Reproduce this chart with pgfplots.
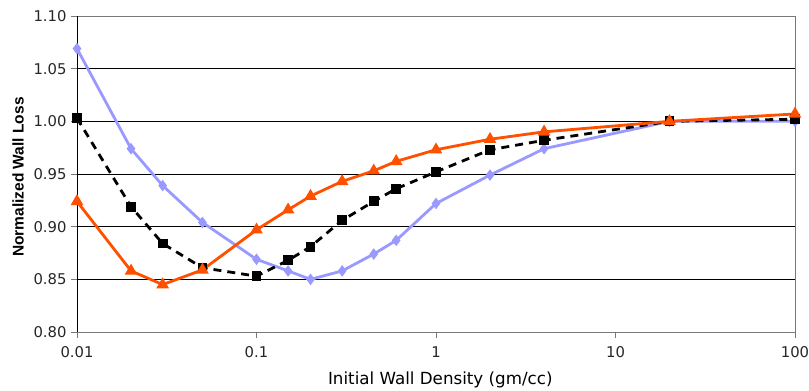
\documentclass[border=0pt]{standalone}
\usepackage{pgfplots}
\pgfplotsset{compat=1.18}
\usepackage{fontspec}
\setmainfont{DejaVu Sans}
\newfontfamily\labfont{Liberation Sans}
\definecolor{lav}{RGB}{153,153,255}
\definecolor{orng}{RGB}{255,80,0}
\definecolor{axgray}{RGB}{120,120,120}
\begin{document}
\begin{tikzpicture}
\useasboundingbox (-77bp,-59bp) rectangle (732bp,316bp+16bp);
\begin{axis}[
  at={(0,0)}, anchor=south west,
  width=718bp, height=316bp, scale only axis,
  xmode=log, xmin=0.01, xmax=100,
  ymin=0.8, ymax=1.1,
  xtick={0.01,0.1,1,10,100},
  xticklabels={0.01,0.1,1,10,100},
  ytick={0.80,0.85,0.90,0.95,1.00,1.05,1.10},
  yticklabels={0.80,0.85,0.90,0.95,1.00,1.05,1.10},
  xminorticks=false,
  xtick pos=bottom, ytick pos=left,
  ymajorgrids,
  grid style={black, line width=0.9bp},
  axis line style={axgray, line width=0.9bp},
  tick style={axgray, line width=0.9bp},
  tick align=outside,
  major tick length=6bp,
  every tick label/.append style={font=\fontsize{14.8bp}{17bp}\selectfont, text=black!85},
  xticklabel style={yshift=-5bp},
  yticklabel style={xshift=-1bp},
  xlabel={Initial Wall Density (gm/cc)},
  ylabel={\labfont\bfseries Normalized Wall Loss},
  xlabel style={font=\fontsize{16.7bp}{19bp}\selectfont, at={(axis description cs:0.506,-0.152)}, anchor=center},
  ylabel style={font=\fontsize{15.5bp}{18bp}\selectfont, at={(axis description cs:-0.082,0.49)}, anchor=center, rotate=0},
  clip=false,
]
\draw[axgray, line width=0.9bp] (rel axis cs:1,0) -- (rel axis cs:1,1);
\draw[black, line width=0.9bp] (rel axis cs:0,0) -- (rel axis cs:0,1);
\addplot[lav, line width=2.8bp, mark=diamond*, mark size=3.5bp, mark options={solid}] coordinates {
(0.01,1.069) (0.02,0.974) (0.03,0.939) (0.05,0.904) (0.1,0.869) (0.15,0.858) (0.2,0.850) (0.3,0.858) (0.45,0.874) (0.6,0.887) (1,0.922) (2,0.949) (4,0.974) (20,1.000) (100,1.000)
};
\addplot[black, line width=2.8bp, dash pattern=on 8bp off 6bp, mark=square*, mark size=3.5bp, mark options={solid}] coordinates {
(0.01,1.003) (0.02,0.919) (0.03,0.884) (0.05,0.861) (0.1,0.853) (0.15,0.868) (0.2,0.881) (0.3,0.906) (0.45,0.924) (0.6,0.936) (1,0.952) (2,0.973) (4,0.982) (20,1.000) (100,1.002)
};
\addplot[orng, line width=2.8bp, mark=triangle*, mark size=4.5bp, mark options={solid}] coordinates {
(0.01,0.924) (0.02,0.858) (0.03,0.845) (0.05,0.859) (0.1,0.897) (0.15,0.916) (0.2,0.929) (0.3,0.943) (0.45,0.953) (0.6,0.962) (1,0.973) (2,0.983) (4,0.990) (20,1.000) (100,1.007)
};
\end{axis}
\end{tikzpicture}
\end{document}
